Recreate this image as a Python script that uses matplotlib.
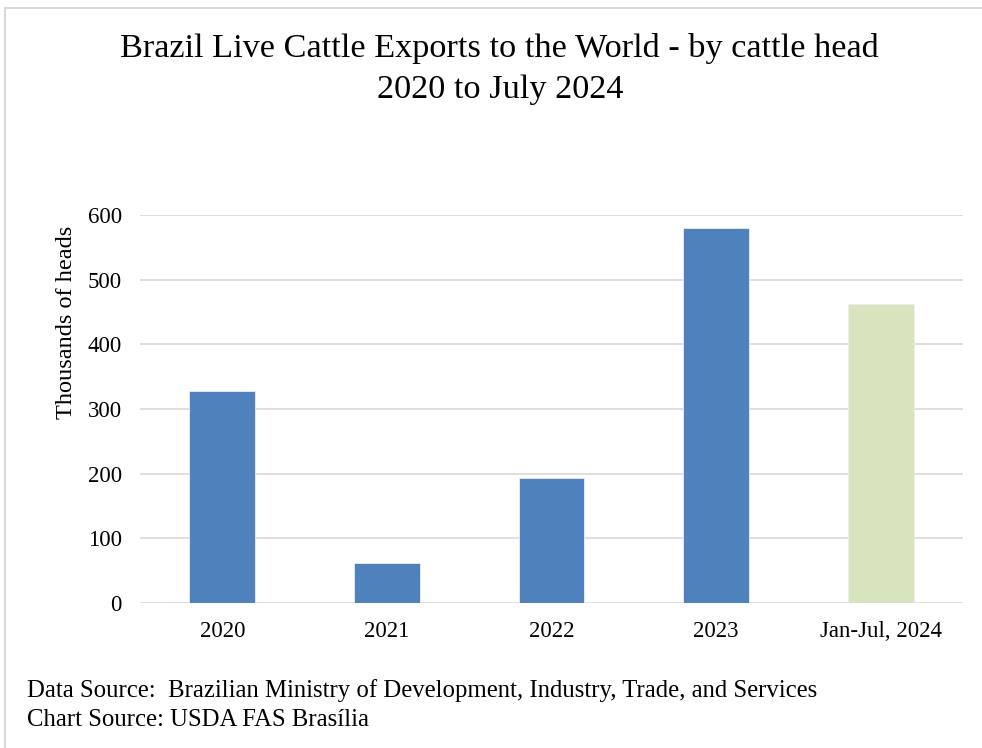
import matplotlib.pyplot as plt
from matplotlib.patches import Rectangle

# Live cattle exports, thousands of heads
categories = ['2020', '2021', '2022', '2023', 'Jan-Jul, 2024']
heads = [328, 62, 194, 580, 463]
bar_colors = ['#4F81BD', '#4F81BD', '#4F81BD', '#4F81BD', '#D7E4BD']
y_ticks = [0, 100, 200, 300, 400, 500, 600]

plt.rcParams['font.family'] = ['Liberation Serif', 'DejaVu Serif']

fig = plt.figure(figsize=(9.82, 7.48), dpi=100)
ax = fig.add_axes([0.1426, 0.1939, 0.8381, 0.5187])

ax.bar(range(len(categories)), heads, width=0.4, color=bar_colors,
       edgecolor='#E8EEF6', linewidth=0.6, zorder=3)

ax.set_xlim(-0.5, len(categories) - 0.5)
ax.set_ylim(0, 600)
ax.set_yticks(y_ticks)
ax.set_xticks(range(len(categories)))
ax.set_xticklabels(categories, fontsize=16.5)
ax.tick_params(axis='y', labelsize=16.5, length=0, pad=13)
ax.tick_params(axis='x', length=0, pad=13)
ax.grid(axis='y', color='#D9D9D9', linewidth=1.2, zorder=0)
for side in ax.spines.values():
    side.set_visible(False)

fig.text(66 / 982, 1 - 322 / 748, 'Thousands of heads', rotation=90,
         ha='center', va='center', fontsize=17.5)

fig.text(0.509, 1 - 49 / 748, 'Brazil Live Cattle Exports to the World - by cattle head',
         ha='center', va='center', fontsize=24.7)
fig.text(0.509, 1 - 90 / 748, '2020 to July 2024', ha='center', va='center', fontsize=24.7)

fig.text(0.027, 1 - 691 / 748, 'Data Source:  Brazilian Ministry of Development, Industry, Trade, and Services',
         ha='left', va='center', fontsize=17.8)
fig.text(0.027, 1 - 720 / 748, 'Chart Source: USDA FAS Brasília',
         ha='left', va='center', fontsize=17.8)

# thin frame round the chart area
fig.patches.append(Rectangle((5 / 982, -0.05), 1.0, 1 - 8 / 748 + 0.05,
                             transform=fig.transFigure, fill=False,
                             edgecolor='#D9D9D9', linewidth=1.5))

fig.savefig('out.png', dpi=100)
